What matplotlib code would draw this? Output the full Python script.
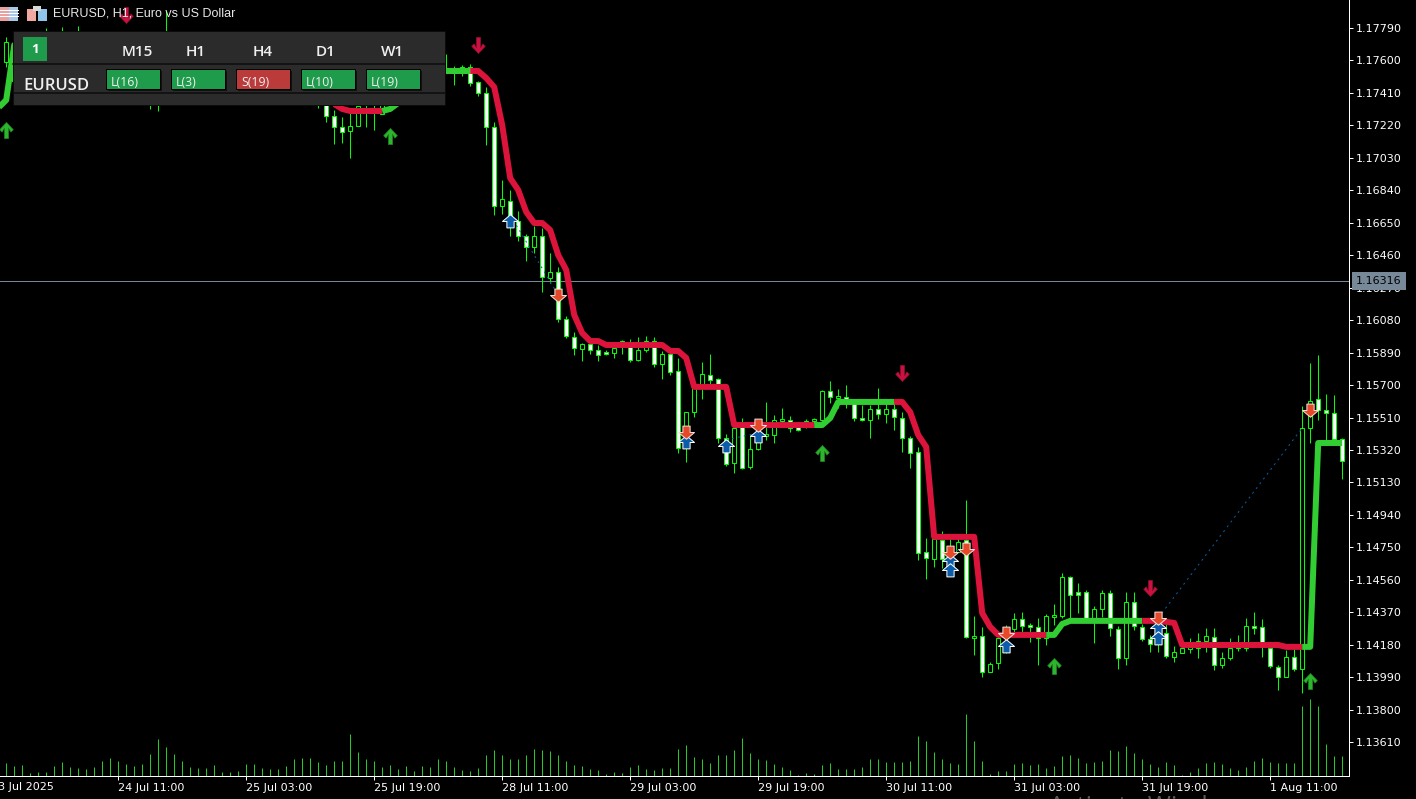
import numpy as np
import matplotlib
matplotlib.use("Agg")
import matplotlib.pyplot as plt
from matplotlib.patches import Rectangle
from matplotlib.path import Path

# prices are in points (1e-5), bars behind the panel are rough guesses
opens = [117589, 117480, 117640, 117670, 117650, 117690, 117720, 117680, 117730, 117700,
         117740, 117670, 117620, 117650, 117570, 117530, 117580, 117610, 117540, 117400,
         117480, 117700, 117640, 117600, 117650, 117620, 117640, 117660, 117645, 117655,
         117640, 117600, 117640, 117620, 117640, 117610, 117570, 117500, 117450, 117500,
         117400, 117273, 117209, 117185, 117214, 117420, 117350, 117285, 117380, 117420,
         117470, 117450, 117520, 117560, 117590, 117536, 117536, 117530, 117559, 117472,
         117407, 117209, 116747, 116776, 116659, 116571, 116507, 116571, 116326, 116361,
         116086, 115981, 115911, 115940, 115905, 115893, 115887, 115940, 115952, 115846,
         115905, 115957, 115823, 115881, 115782, 115332, 115542, 115683, 115759, 115735,
         115390, 115244, 115478, 115221, 115326, 115402, 115408, 115490, 115496, 115461,
         115461, 115490, 115496, 115665, 115624, 115630, 115601, 115507, 115496, 115560,
         115531, 115560, 115507, 115390, 115309, 114724, 114683, 114794, 114724, 114724,
         114794, 114221, 114233, 114023, 114075, 114268, 114274, 114332, 114297, 114286,
         114221, 114344, 114350, 114578, 114490, 114490, 114326, 114391, 114484, 114274,
         114104, 114432, 114286, 114215, 114186, 114251, 114110, 114134, 114157, 114163,
         114204, 114227, 114063, 114104, 114175, 114163, 114291, 114286, 114163, 114052,
         113993, 114110, 114040, 115449, 115618, 115554, 115537, 115385]
highs = [117735, 117560, 117700, 117710, 117720, 117787, 117760, 117793, 117765, 117799,
         117765, 117700, 117680, 117690, 117620, 117600, 117640, 117660, 117600, 117500,
         117887, 117760, 117700, 117680, 117690, 117670, 117700, 117680, 117670, 117690,
         117700, 117670, 117680, 117660, 117670, 117640, 117620, 117560, 117540, 117600,
         117450, 117308, 117267, 117290, 117360, 117500, 117450, 117420, 117450, 117500,
         117530, 117560, 117590, 117620, 117640, 117635, 117565, 117571, 117577, 117477,
         117442, 117238, 116899, 116840, 116717, 116583, 116630, 116618, 116472, 116390,
         116104, 116010, 115946, 115946, 115934, 115905, 115940, 115963, 115969, 115981,
         115987, 115981, 115899, 115899, 115858, 115542, 115694, 115835, 115881, 115741,
         115414, 115478, 115507, 115408, 115455, 115601, 115525, 115566, 115519, 115478,
         115502, 115507, 115671, 115724, 115677, 115700, 115613, 115583, 115583, 115683,
         115601, 115607, 115542, 115402, 115338, 114806, 114812, 114847, 114806, 114812,
         115028, 114350, 114286, 114081, 114251, 114297, 114367, 114373, 114309, 114338,
         114361, 114420, 114601, 114584, 114543, 114502, 114408, 114502, 114502, 114291,
         114490, 114490, 114303, 114239, 114373, 114303, 114175, 114192, 114221, 114251,
         114280, 114280, 114139, 114221, 114239, 114338, 114373, 114332, 114198, 114063,
         114151, 114180, 115578, 115829, 115876, 115648, 115642, 115390]
lows = [117560, 117450, 117600, 117620, 117610, 117650, 117660, 117660, 117680, 117680,
        117650, 117600, 117560, 117550, 117500, 117480, 117540, 117520, 117314, 117302,
        117440, 117620, 117560, 117570, 117600, 117590, 117600, 117630, 117620, 117630,
        117580, 117560, 117600, 117590, 117600, 117540, 117480, 117420, 117400, 117320,
        117238, 117109, 117115, 117027, 117214, 117209, 117191, 117285, 117340, 117380,
        117430, 117420, 117480, 117530, 117540, 117524, 117454, 117507, 117448, 117390,
        117103, 116694, 116700, 116571, 116542, 116425, 116472, 116244, 116297, 116069,
        115975, 115876, 115841, 115881, 115841, 115876, 115858, 115881, 115835, 115841,
        115893, 115806, 115735, 115759, 115303, 115250, 115513, 115618, 115683, 115361,
        115227, 115186, 115209, 115209, 115320, 115379, 115361, 115455, 115426, 115431,
        115449, 115478, 115484, 115595, 115566, 115566, 115490, 115490, 115390, 115502,
        115478, 115437, 115309, 115215, 114677, 114566, 114636, 114630, 114590, 114724,
        114221, 114122, 113993, 114023, 114040, 114134, 114256, 114251, 114198, 114063,
        114180, 114297, 114338, 114326, 114367, 114315, 114192, 114344, 114233, 114040,
        114063, 114268, 114204, 114139, 114139, 114104, 114081, 114134, 114134, 114104,
        114139, 114034, 114046, 114093, 114145, 114145, 114245, 114110, 114046, 113917,
        113993, 114028, 113900, 115361, 115496, 115367, 115367, 115151]
closes = [117705, 117540, 117670, 117650, 117690, 117720, 117680, 117730, 117700, 117740,
          117670, 117620, 117650, 117570, 117530, 117580, 117610, 117540, 117400, 117480,
          117700, 117640, 117600, 117650, 117620, 117640, 117660, 117645, 117655, 117640,
          117600, 117640, 117620, 117640, 117610, 117570, 117500, 117450, 117500, 117420,
          117273, 117209, 117179, 117214, 117331, 117340, 117400, 117380, 117420, 117470,
          117450, 117520, 117560, 117590, 117560, 117530, 117524, 117559, 117466, 117407,
          117209, 116747, 116788, 116653, 116571, 116507, 116571, 116332, 116361, 116086,
          115987, 115917, 115940, 115905, 115876, 115881, 115917, 115957, 115846, 115905,
          115957, 115823, 115881, 115776, 115332, 115542, 115683, 115765, 115729, 115390,
          115238, 115449, 115215, 115326, 115367, 115414, 115496, 115502, 115449, 115437,
          115490, 115502, 115665, 115630, 115636, 115607, 115507, 115496, 115560, 115531,
          115560, 115513, 115390, 115303, 114718, 114689, 114800, 114683, 114619, 114783,
          114227, 114233, 114023, 114069, 114221, 114221, 114332, 114291, 114286, 114221,
          114350, 114356, 114578, 114473, 114473, 114326, 114391, 114484, 114280, 114104,
          114432, 114291, 114215, 114186, 114256, 114116, 114139, 114163, 114169, 114204,
          114233, 114063, 114104, 114163, 114163, 114291, 114280, 114169, 114058, 113993,
          114110, 114040, 115449, 115607, 115554, 115537, 115385, 115256]
volumes = [13, 10, 11, 3, 4, 4, 10, 14, 9, 8, 7, 9, 15, 18, 15, 12, 10, 12, 22, 37,
           29, 22, 15, 9, 8, 8, 11, 4, 4, 5, 12, 12, 8, 7, 7, 10, 17, 18, 18, 14,
           11, 15, 15, 42, 24, 17, 15, 9, 11, 7, 10, 5, 10, 9, 17, 15, 9, 6, 5, 8,
           21, 26, 21, 17, 17, 21, 27, 26, 25, 21, 15, 11, 10, 7, 6, 2, 4, 3, 9, 11,
           7, 6, 8, 8, 27, 31, 19, 17, 13, 21, 21, 26, 38, 23, 17, 16, 12, 9, 6, 1,
           3, 2, 11, 13, 7, 7, 7, 9, 17, 17, 14, 14, 14, 15, 40, 35, 24, 17, 13, 12,
           62, 35, 15, 2, 5, 5, 12, 13, 11, 12, 8, 10, 20, 21, 18, 13, 14, 15, 26, 25,
           30, 23, 17, 12, 9, 14, 11, 1, 4, 8, 13, 14, 12, 8, 6, 9, 15, 18, 14, 13,
           13, 13, 70, 77, 70, 32, 20, 20]

# stepped trend line, starts one bar left of the window
trend = [117320, 117366, 117688] + [117660] * 17 + [117600] * 12 + [117500] * 8 + [
    117420, 117395, 117343, 117314] + [117302] * 5 + [
    117314, 117349, 117425, 117483, 117530, 117530, 117530] + [117536] * 5 + [
    117495, 117442, 117220, 116910, 116840, 116712, 116647, 116647, 116606, 116460,
    116373, 116110, 116004, 115957, 115957] + [115934] * 8 + [
    115899, 115899, 115858] + [115689] * 5 + [115466] * 12 + [
    115507] + [115601] * 9 + [
    115542, 115408, 115338] + [114812] * 6 + [
    114367, 114286] + [114239] * 8 + [
    114303] + [114321] * 12 + [
    114315, 114309] + [114180] * 13 + [114169] * 4 + [115361] * 4
# (first bar, last bar, up?)
trend_runs = [(-1, 41, True), (41, 47, False), (47, 58, True), (58, 101, False),
              (101, 111, True), (111, 130, False), (130, 142, True), (142, 162, False),
              (162, 167, True)]

signal_up_bars = [0, 48, 102, 131, 163]
signal_up_prices = [117191, 117156, 115303, 114058, 113970]
signal_down_bars = [15, 59, 112, 143]
signal_down_prices = [117863, 117688, 115770, 114514]
buy_bars = [63, 85, 90, 94, 118, 118, 125, 144, 144]
buy_prices = [116659, 115367, 115344, 115402, 114671, 114619, 114175, 114280, 114221]
sell_bars = [69, 85, 94, 118, 120, 125, 144, 163]
sell_prices = [116226, 115426, 115466, 114724, 114742, 114251, 114338, 115554]
# dotted links between deals: (bar, price, bar, price)
deal_links = [(63, 116694, 69, 116226), (90, 115379, 94, 115420),
              (118, 114724, 120, 114742), (144, 114338, 162, 115449)]

last_price_line = 1.16308
last_price_text = "1.16316"
price_ticks = [1.17790, 1.17600, 1.17410, 1.17220, 1.17030, 1.16840, 1.16650, 1.16460,
               1.16270, 1.16080, 1.15890, 1.15700, 1.15510, 1.15320, 1.15130, 1.14940,
               1.14750, 1.14560, 1.14370, 1.14180, 1.13990, 1.13800, 1.13610]
time_ticks = [14, 30, 46, 62, 78, 94, 110, 126, 142, 158]
time_labels = ["24 Jul 11:00", "25 Jul 03:00", "25 Jul 19:00", "28 Jul 11:00", "29 Jul 03:00",
               "29 Jul 19:00", "30 Jul 11:00", "31 Jul 03:00", "31 Jul 19:00", "1 Aug 11:00"]
panel_periods = ["M15", "H1", "H4", "D1", "W1"]
panel_states = ["L(16)", "L(3)", "S(19)", "L(10)", "L(19)"]

PX = 0.72  # one pixel in points at dpi 100
LIME = "#00ff00"
plt.rcParams["font.family"] = "DejaVu Sans"

fig = plt.figure(figsize=(14.16, 7.99), dpi=100, facecolor="black")
rect = [0, 23 / 799, 1349 / 1416, 776 / 799]
xlim = (-0.775, 167.85)

# volumes sit in their own axes under the candles
ax_vol = fig.add_axes(rect, facecolor="black")
ax_vol.set_xlim(xlim)
ax_vol.set_ylim(0, 776)
ax_vol.axis("off")
bars = np.arange(len(opens))
ax_vol.vlines(bars, 0, volumes, color="#22cc22", lw=PX)

ax = fig.add_axes(rect, facecolor="none")
ax.set_xlim(xlim)
ax.set_ylim(1.13414, 1.17951)

o = np.array(opens) / 1e5
h = np.array(highs) / 1e5
l = np.array(lows) / 1e5
c = np.array(closes) / 1e5
up = c >= o

ax.axhline(last_price_line, color="#778899", lw=PX, zorder=1)
ax.vlines(bars, l, h, color=LIME, lw=PX, zorder=2)
ax.bar(bars, np.abs(c - o), bottom=np.minimum(o, c), width=0.5,
       color=np.where(up, "black", "white"), edgecolor=LIME, linewidth=PX, zorder=3)

trend_prices = np.array(trend) / 1e5
trend_bars = np.arange(-1, len(trend) - 1)
for first, last, is_up in trend_runs:
    a, b = first + 1, last + 2
    ax.plot(trend_bars[a:b], trend_prices[a:b], lw=6 * PX, zorder=4, solid_joinstyle="round",
            solid_capstyle="butt", color="#32cd32" if is_up else "#dc143c")

for x0, p0, x1, p1 in deal_links:
    ax.plot([x0, x1], [p0 / 1e5, p1 / 1e5], color="#0a5ea8", lw=PX, ls=(0, (2, 4)), zorder=5)

thin_up = Path([(0, 1), (0.85, 0.1), (0.55, -0.2), (0.25, 0.3), (0.25, -1), (-0.25, -1),
                (-0.25, 0.3), (-0.55, -0.2), (-0.85, 0.1), (0, 1)])
thin_down = Path(thin_up.vertices * [1, -1])
fat_up = Path([(0, 0.85), (1, 0), (0.45, 0), (0.45, -0.8), (-0.45, -0.8), (-0.45, 0), (-1, 0), (0, 0.85)])
fat_down = Path(fat_up.vertices * [1, -1])

ax.plot(signal_up_bars, np.array(signal_up_prices) / 1e5, ls="none", marker=thin_up, ms=16 * PX,
        mfc="#2db52d", mec="#1f8a1f", mew=0.5, zorder=6, clip_on=False)
ax.plot(signal_down_bars, np.array(signal_down_prices) / 1e5, ls="none", marker=thin_down, ms=16 * PX,
        mfc="#cc1040", mec="#8a1030", mew=0.5, zorder=6, clip_on=False)
ax.plot(buy_bars, np.array(buy_prices) / 1e5, ls="none", marker=fat_up, ms=16 * PX,
        mfc="#0b5cab", mec="white", mew=PX, zorder=7)
ax.plot(sell_bars, np.array(sell_prices) / 1e5, ls="none", marker=fat_down, ms=16 * PX,
        mfc="#e5492a", mec="#f5e0d8", mew=PX, zorder=7)

ax.spines[["top", "left"]].set_visible(False)
ax.spines[["right", "bottom"]].set_color("white")
ax.spines[["right", "bottom"]].set_linewidth(PX)
ax.yaxis.tick_right()
ax.set_yticks(price_ticks)
ax.set_yticklabels([f"{t:.5f}" for t in price_ticks])
ax.set_xticks(time_ticks)
ax.set_xticklabels(time_labels, ha="left")
ax.tick_params(axis="y", colors="white", length=4 * PX, width=PX, pad=2.2, labelsize=8)
ax.tick_params(axis="x", colors="white", length=4 * PX, width=PX, pad=2.5, labelsize=8)

# everything below is chart furniture placed in screen pixels
ui = fig.add_axes([0, 0, 1, 1], facecolor="none")
ui.set_xlim(0, 1416)
ui.set_ylim(799, 0)
ui.axis("off")

ui.text(-9, 787.5, "23 Jul 2025", color="white", fontsize=8, va="center", ha="left")
ui.add_patch(Rectangle((1352, 272), 54, 18, color="#778899", lw=0))
ui.text(1356, 281.5, last_price_text, color="black", fontsize=8, va="center", ha="left")
ui.text(1049, 813.5, "Activate Windows", color="#5a5a5a", fontsize=18, family="Open Sans", va="baseline")

# header icons and title
for x0, col in [(0, "#e8a0a0"), (9, "#a8c8e8")]:
    ui.add_patch(Rectangle((x0, 7), 9, 14, color=col, lw=0, zorder=1))
for y0 in (10, 13, 16):
    ui.plot([0, 18], [y0, y0], color="white", lw=PX, zorder=2)
ui.add_patch(Rectangle((27, 9), 9, 12, color="#f0a8a0", lw=0))
ui.add_patch(Rectangle((38, 9), 9, 12, color="#90c4ea", lw=0))
ui.add_patch(Rectangle((33, 6), 8, 5, color="#d8d8d8", lw=0))
title = ui.text(53, 14, "EURUSD, H1, Euro vs US Dollar", color="#e8e8e8", fontsize=9,
                family="Liberation Sans", va="center", ha="left", zorder=0)

# signal panel
ui.add_patch(Rectangle((13, 31), 432, 73.5, color="#2b2b2b", ec="#0c0c0c", lw=PX))
ui.plot([13, 445], [64, 64], color="#0c0c0c", lw=1.5 * PX)
ui.plot([13, 445], [93, 93], color="#0c0c0c", lw=1.5 * PX)
ui.add_patch(Rectangle((23, 37), 24, 24, color="#1e9b4b", lw=0))
ui.text(35, 49.5, "1", color="white", fontsize=9.5, fontweight="bold", family="Open Sans",
        ha="center", va="center")
ui.text(23, 85.5, "EURUSD", color="#f0f0f0", fontsize=12, fontweight="semibold", family="Open Sans",
        ha="left", va="center")
for i, (period, state) in enumerate(zip(panel_periods, panel_states)):
    x0 = 106 + 65 * i
    ui.text([137, 196, 263, 326, 392][i], 52.5, period, color="#f0f0f0", fontsize=11, fontweight="semibold",
            family="Open Sans", ha="center", va="center")
    ui.add_patch(Rectangle((x0 + 2, 71), 54, 20, color="#111111", lw=0))
    ui.add_patch(Rectangle((x0, 69), 54, 20, fc="#bb3a3a" if state[0] == "S" else "#1e9b4b",
                           ec="black", lw=PX))
    ui.text(x0 + 5, 82, state, color="#f0f0f0", fontsize=8.8, family="Open Sans", ha="left", va="center")

fig.savefig("out.png", dpi=100, facecolor="black")
